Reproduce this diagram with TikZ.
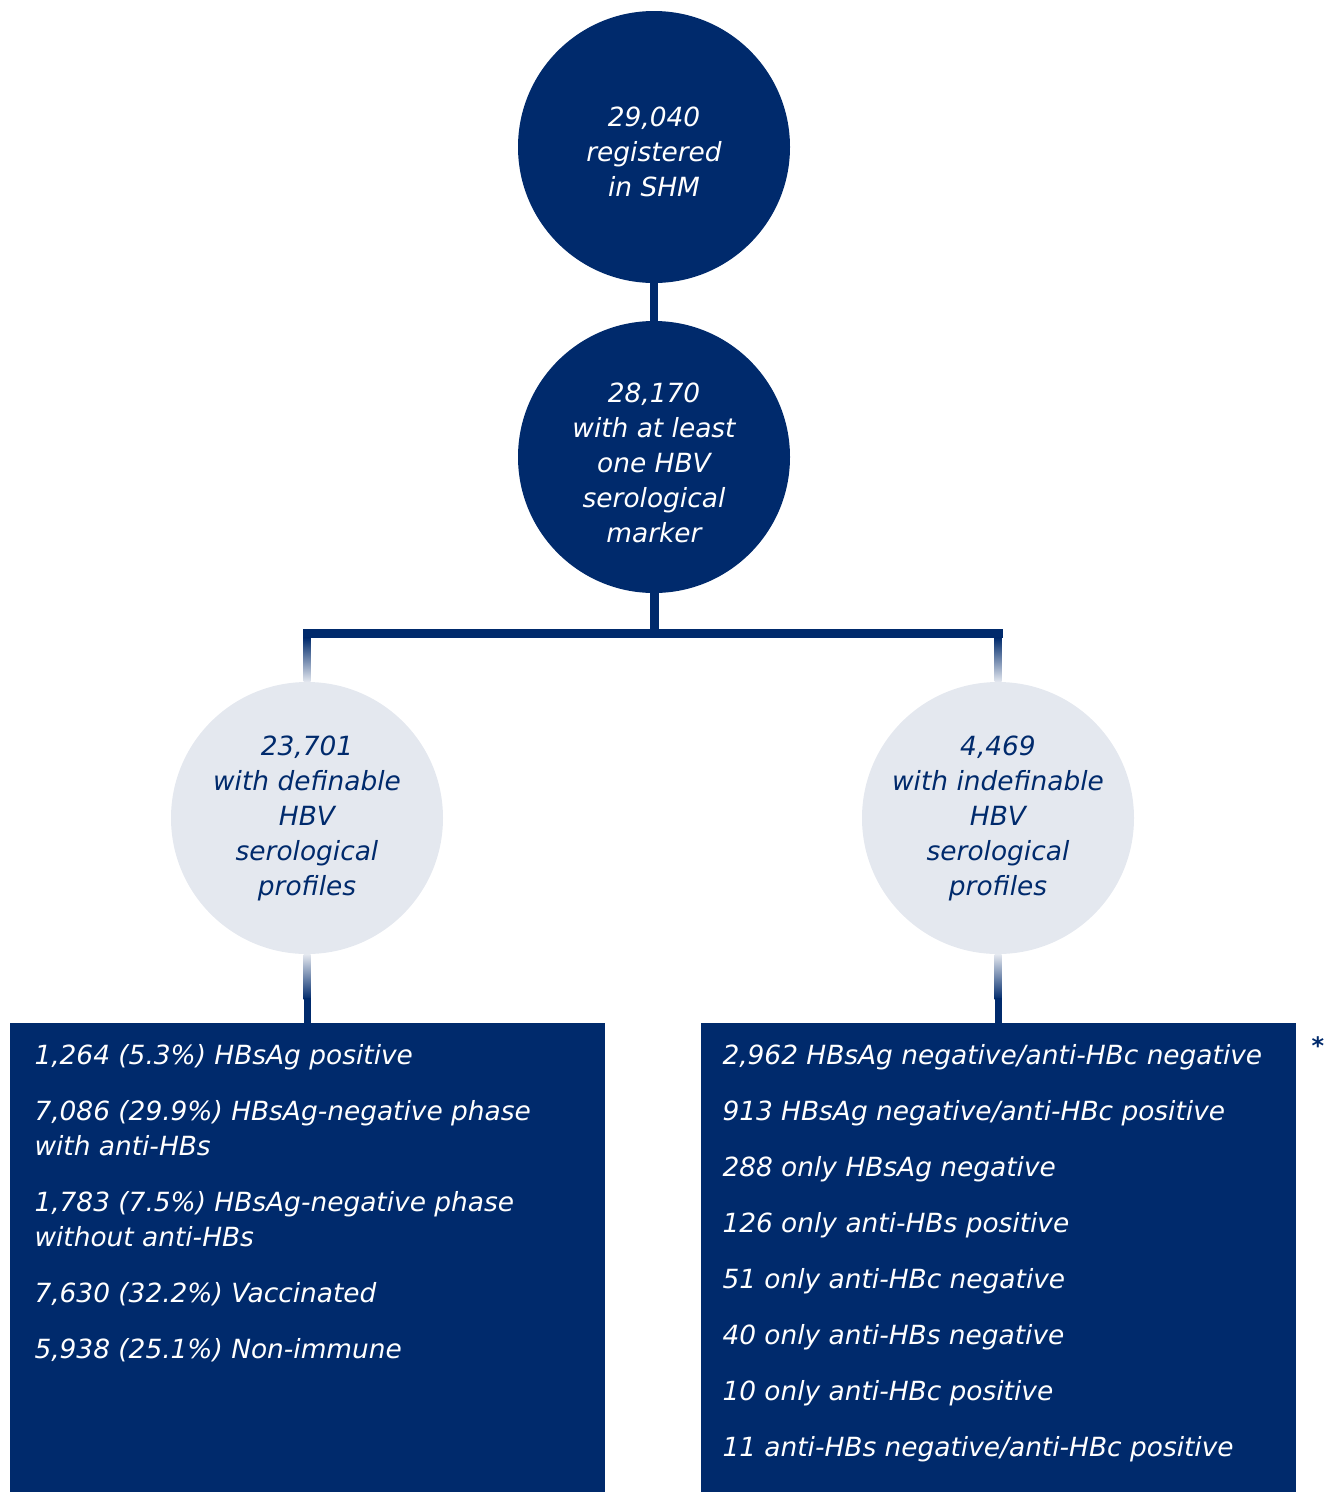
\documentclass[tikz,border=0pt]{standalone}
\usepackage{fontspec}
\setmainfont{DejaVu Sans}
\usetikzlibrary{positioning, calc}
\definecolor{hnavy}{HTML}{002A6C}
\definecolor{hlight}{HTML}{E4E8EF}

\begin{document}
\begin{tikzpicture}[
  x=1pt, y=1pt,
  font=\fontsize{26.4}{35}\selectfont\itshape,
  every node/.style={align=center, inner sep=0pt},
  dark/.style={circle, fill=hnavy, minimum size=272pt},
  darktxt/.style={text=white},
  pale/.style={circle, fill=hlight, text=hnavy, minimum size=272pt},
  panel/.style={rectangle, fill=hnavy, minimum width=595pt, minimum height=469pt, anchor=north},
  items/.style={align=left, text=white, anchor=north west},
  link/.style={draw=hnavy, line width=8pt},
  bar/.style={draw=hnavy, line width=9pt, line cap=rect},
]
\useasboundingbox (0,0) rectangle (1330,-1492);
% circles
\node[dark] (reg)  at (654,-147) {};
\node[darktxt] (regtxt) at ([yshift=-5pt]reg.center) {29,040\\registered\\in SHM};
\node[dark] (mark) at (654,-457) {};
\node[darktxt] (marktxt) at ([yshift=-6pt]mark.center)
  {28,170\\with at least\\one HBV\\serological\\marker};
\node[pale] (defn) at (307,-818) {23,701\\with definable\\HBV\\serological\\profiles};
\node[pale] (indf) at (998,-818) {4,469\\with indefinable\\HBV\\serological\\profiles};
% boxes
\node[panel] (defbox) at (307,-1023) {};
\node[panel] (indbox) at (998,-1023) {};
\node[items, right=25pt of defbox.north west, anchor=north west, yshift=-21pt] (deflist)
  {1,264 (5.3\%) HBsAg positive\\[21pt]
   7,086 (29.9\%) HBsAg-negative phase\\with anti-HBs\\[21pt]
   1,783 (7.5\%) HBsAg-negative phase\\without anti-HBs\\[21pt]
   7,630 (32.2\%) Vaccinated\\[21pt]
   5,938 (25.1\%) Non-immune};
\node[items, right=22pt of indbox.north west, anchor=north west, yshift=-21pt] (indlist)
  {2,962 HBsAg negative/anti-HBc negative\\[21pt]
   913 HBsAg negative/anti-HBc positive\\[21pt]
   288 only HBsAg negative\\[21pt]
   126 only anti-HBs positive\\[21pt]
   51 only anti-HBc negative\\[21pt]
   40 only anti-HBs negative\\[21pt]
   10 only anti-HBc positive\\[21pt]
   11 anti-HBs negative/anti-HBc positive};
\node[text=hnavy, font=\fontsize{24}{24}\selectfont\bfseries] (star) at (1318,-1046) {*};

% connectors
\draw[link] (reg) -- (mark);
\draw[bar] (mark.south) |- ($(defn.north)+(0,48)$);
\draw[bar] (mark.south) |- ($(indf.north)+(0,48)$);
\shade[top color=hnavy, bottom color=hlight] ($(defn.north)+(-3.5,44)$) rectangle ($(defn.north)+(3.5,0)$);
\shade[top color=hnavy, bottom color=hlight] ($(indf.north)+(-3.5,44)$) rectangle ($(indf.north)+(3.5,0)$);
\shade[top color=hlight, bottom color=hnavy] ($(defn.south)+(-3.5,0)$) rectangle ($(defn.south)+(3.5,-45)$);
\shade[top color=hlight, bottom color=hnavy] ($(indf.south)+(-3.5,0)$) rectangle ($(indf.south)+(3.5,-45)$);
\draw[link, line width=7pt] ($(defn.south)+(0,-44)$) -- (defbox.north);
\draw[link, line width=7pt] ($(indf.south)+(0,-44)$) -- (indbox.north);
\end{tikzpicture}
\end{document}
